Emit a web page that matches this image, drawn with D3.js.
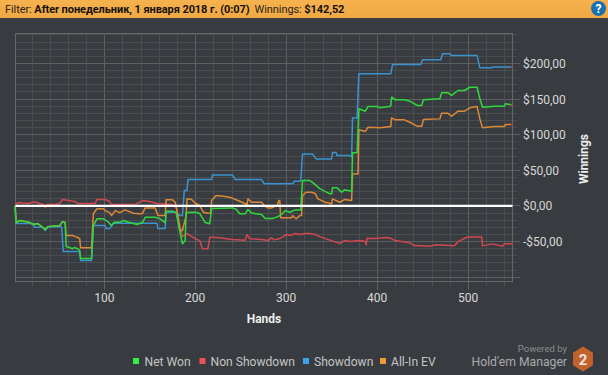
<!DOCTYPE html>
<html><head><meta charset="utf-8">
<script src="https://cdn.jsdelivr.net/npm/d3@7"></script>
<style>
html,body{margin:0;padding:0;background:#383c40;overflow:hidden}
text{font-family:Roboto,"Open Sans",sans-serif}
</style></head><body>
<svg id="c" width="608" height="375"></svg>
<script>
const showdownHands=[2,3,22,23,33,35,38,51,53,55,73,74,86,88,101,102,106,110,158,159,167,168,179,183,186,188,191,192,218,219,241,244,273,276,307,309,316,318,329,333,350,351,355,356,370,372,373,378,380,415,417,448,450,470,472,480,482,510,513,526,527,548];
const showdownValues=[0,-24.7,-24.7,-30,-30,-34.5,-30,-29,-29,-64,-64,-76.6,-76.6,-27.5,-27.5,-31.7,-31.7,-24.3,-24.3,-31.7,-31.7,-8.8,-8.8,-13.5,-13.5,21.6,21.6,37,37,43.6,43.6,37,37,31,31,34.7,34.7,73,73,66,66,75,75,70.7,70.7,69,123.6,123.6,185.4,185.4,198.4,198.4,205,205,213.5,213.5,211,211,193.8,193.8,195,195];

const netWonHands=[2,3,7,18,22,27,35,38,51,54,57,58,62,65,67,71,73,74,86,88,92,99,104,108,111,117,121,128,136,142,145,156,161,167,168,175,179,181,184,186,189,190,200,205,211,216,218,241,245,249,255,258,262,273,277,285,291,296,299,304,310,316,318,326,329,337,348,350,351,356,361,364,372,373,378,380,387,390,401,403,415,416,420,430,436,444,449,451,469,471,478,482,489,496,502,510,513,516,529,540,541,548];
const netWonValues=[0,-23.3,-20.5,-23.3,-26,-24.7,-33,-29,-27.5,-22,-23.3,-57,-58.4,-60,-58.4,-60,-62.6,-73.8,-73.8,-27.5,-18,-18,-22,-27.5,-23,-23,-20.5,-23.3,-26,-23.3,-16,-16,-17.7,-23.3,-7.4,-7.4,-9.3,-22,-41.5,-53,-48.6,-9.3,-8.8,-10.7,-23.3,-25,-3.6,-2.7,-4.6,-11,-11,-5,-10,-12,-17.7,-17.7,-15,-10.7,-6.5,-8.8,-5.5,-5.5,35.6,35.6,33,24.4,17,17,25.4,25.4,19.2,22.6,20.6,74.5,74.5,136.3,133,139.5,139.5,137.7,140,152.6,149,149,147,141,141,149,150.3,158.7,158.7,155.3,162,162,166.6,166.6,150.3,138.5,140,140,143.3,142];

const allInHands=[2,3,7,18,22,27,35,38,51,54,57,58,65,68,71,73,74,86,88,92,99,101,106,108,112,117,123,132,139,142,145,156,159,167,168,175,178,181,183,186,190,191,196,200,205,209,214,217,218,223,233,240,249,252,257,258,262,273,276,280,284,290,292,293,294,306,307,311,315,317,318,322,328,332,335,343,350,351,359,364,372,373,379,380,387,390,403,415,416,420,430,436,444,449,451,469,471,478,482,489,496,502,510,513,516,529,540,541,548];
const allInValues=[0,-23.3,-20.5,-23.3,-26,-24.7,-33,-29,-27.5,-22,-23.3,-41.5,-41.5,-43,-44.3,-45.8,-58.8,-58.8,-11,-4,-4,-6.5,-9.3,-13.5,-6.5,-9.3,-5.5,-10.2,-11,-10.7,-2.7,-2.7,-13.5,-13.5,8.6,8.6,5.2,-13.5,-34.5,-34.5,-13.5,10,9,3.8,0.6,-8.8,-10.2,-10.2,7.6,14.6,13.2,11.4,6.6,4.8,2,10,5.2,5.2,0.6,-2.7,-2.7,0.6,7.6,7.6,-16.7,-16.7,-13.5,-18,-13.5,-13.5,14.6,19.2,19.2,17.4,10,5.2,3,10,5.2,9,7.6,45,45,106.8,104.4,110.5,109.6,111.4,123.6,120.8,120.8,117.5,111.9,111.9,121.3,122.2,130,130,125.9,133,133,137.7,139.5,122.2,109.6,111.4,111.4,114.2,114.2];

const nonShowdownHands=[2,5,10,16,21,24,29,33,35,37,46,51,54,68,71,90,92,101,106,108,134,142,150,158,174,179,182,186,191,200,205,208,214,216,220,229,240,255,257,260,273,280,284,287,293,301,304,310,315,321,326,332,337,343,350,359,364,370,381,387,388,389,398,409,414,420,436,441,458,464,485,489,498,500,515,516,527,538,540,548];
const nonShowdownValues=[0,4.8,4,3.4,4.8,5.5,3.4,2,-2.2,2,2,3.4,9,6.2,3.4,3.4,9,9,6.2,2,2,7.6,6.2,3.4,2,-0.8,-20.5,-43,-39,-45.8,-48.6,-60,-60,-44,-44,-44.8,-47,-48,-40,-46,-47,-48.6,-44.8,-47.6,-45.8,-40,-41.5,-38.7,-40,-38.7,-38.7,-40,-43,-45.8,-48.6,-52.8,-48.6,-50,-48.6,-50,-54,-45.3,-45.8,-44.3,-44.8,-48.6,-51.8,-55.6,-56.6,-54.6,-56,-50,-44.3,-43.4,-43.4,-56,-53.2,-56.6,-53.2,-53.2];

const legendNames=["Net Won","Non Showdown","Showdown","All-In EV"];
const legendColors=["#33ee44","#f0505a","#38a4e6","#f59a38"];
const xMajor=[100,200,300,400,500];
const yMajor=[-50,0,50,100,150,200];

const W=608,H=375,L=15.5,R=512.5,T=33.5,B=281.5;
const svg=d3.select("#c");
const defs=svg.append("defs");
const g=defs.append("linearGradient").attr("id","hdr").attr("x1",0).attr("x2",0).attr("y1",0).attr("y2",1);
g.append("stop").attr("offset",0).attr("stop-color","#f6b24f");
g.append("stop").attr("offset",1).attr("stop-color","#efa944");
svg.append("rect").attr("width",W).attr("height",H).attr("fill","#383c40");
svg.append("rect").attr("width",W).attr("height",18).attr("fill","url(#hdr)");

const hdr=svg.append("text").attr("x",5).attr("y",13).attr("font-size",11).attr("letter-spacing",-0.08).attr("fill","#2a2418");
hdr.append("tspan").text("Filter: ");
hdr.append("tspan").attr("font-weight",700).attr("fill","#15110a").text("After понедельник, 1 января 2018 г. (0:07)");
hdr.append("tspan").attr("dx",5).text("Winnings: ");
hdr.append("tspan").attr("font-weight",700).attr("fill","#15110a").text("$142,52");

const hc=svg.append("g").attr("transform","translate(598.5,8.5)");
hc.append("circle").attr("r",7.5).attr("fill","#1c6fae");
hc.append("text").attr("text-anchor","middle").attr("y",4.5).attr("font-size",12).attr("font-weight",700).attr("fill","#fff").text("?");

const x=d3.scaleLinear().domain([2.4,548.9]).range([L,R]);
const y=d3.scaleLinear().domain([-106,242]).range([B,T]);

const gx=svg.append("g"),gy=svg.append("g");
d3.range(20,548,20).forEach(v=>{
  const major=v%100===0,px=Math.round(x(v))+.5;
  gx.append("line").attr("x1",px).attr("x2",px).attr("y1",T).attr("y2",major?290:286).attr("stroke",major?"#5c6063":"#4a4e51").attr("stroke-width",1);
});
d3.range(-100,241,10).forEach(v=>{
  const major=v%50===0,py=Math.round(y(v)-.5)+.5;
  gy.append("line").attr("x1",L).attr("x2",major?520:517).attr("y1",py).attr("y2",py).attr("stroke",major?"#5c6063":"#4a4e51").attr("stroke-width",1);
});
svg.append("rect").attr("x",L).attr("y",T).attr("width",R-L).attr("height",B-T).attr("fill","none").attr("stroke","#63676a").attr("stroke-width",1);

const line=d3.line().x(d=>x(d[0])).y(d=>y(d[1]));
function zip(a,b){return a.map((h,i)=>[h,b[i]]);}
[[nonShowdownHands,nonShowdownValues,"#d2474e"],
 [showdownHands,showdownValues,"#3a93cf"],
 [allInHands,allInValues,"#dc8836"],
 [netWonHands,netWonValues,"#2fd93b"]].forEach(s=>{
  const pts=zip(s[0],s[1]);
  svg.append("path").attr("d",line(pts)).attr("fill","none").attr("stroke",s[2]).attr("stroke-width",1.5).attr("stroke-linejoin","round");
  const e=pts[pts.length-1];
  svg.append("rect").attr("x",x(e[0])-1).attr("y",y(e[1])-.5).attr("width",2).attr("height",1.2).attr("fill","#ff2020");
});
svg.append("line").attr("x1",L).attr("x2",R).attr("y1",y(0)).attr("y2",y(0)).attr("stroke","#fff").attr("stroke-width",2.2);

svg.append("g").selectAll("text").data(xMajor).join("text").attr("x",d=>x(d)).attr("y",302).attr("text-anchor","middle").attr("font-size",12).attr("fill","#d8d8d8").text(d=>d);
const fmt=d=>(d<0?"-":"")+"$"+Math.abs(d)+",00";
svg.append("g").selectAll("text").data(yMajor).join("text").attr("x",523).attr("y",d=>y(d)+4.5).attr("font-size",12).attr("fill","#d8d8d8").text(fmt);

svg.append("text").attr("x",264).attr("y",323).attr("text-anchor","middle").attr("font-size",12).attr("font-weight",700).attr("fill","#eee").text("Hands");
svg.append("text").attr("transform","translate(588,159) rotate(-90)").attr("text-anchor","middle").attr("font-size",12).attr("font-weight",700).attr("fill","#eee").text("Winnings");

const lx=[133,199.5,303,380],tx=[144.5,210.5,314,391];
legendNames.forEach((n,i)=>{
  svg.append("rect").attr("x",lx[i]).attr("y",358).attr("width",6).attr("height",6).attr("fill",legendColors[i]);
  svg.append("text").attr("x",tx[i]).attr("y",366).attr("font-size",12.1).attr("fill","#c4c4c4").text(n);
});
svg.append("text").attr("x",567).attr("y",352).attr("text-anchor","end").attr("font-size",9.5).attr("fill","#8a8c8e").text("Powered by");
svg.append("text").attr("x",567).attr("y",366).attr("text-anchor","end").attr("font-size",12.2).attr("fill","#a8aaac").text("Hold'em Manager");
const hex=svg.append("g").attr("transform","translate(583,359)");
hex.append("path").attr("d",d3.line()(d3.range(6).map(i=>{const a=Math.PI/3*i-Math.PI/2;return [11.5*Math.cos(a),12.5*Math.sin(a)];}))+"Z").attr("fill","#c4622c");
hex.append("text").attr("text-anchor","middle").attr("y",5.5).attr("font-size",15).attr("font-weight",700).attr("fill","#ece6e0").text("2");
</script></body></html>
